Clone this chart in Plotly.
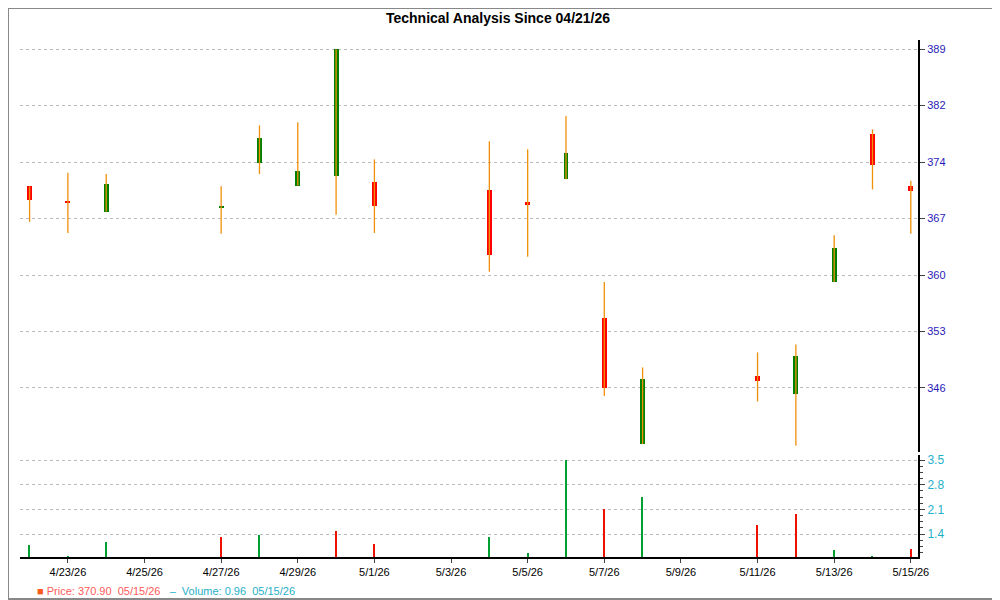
import plotly.graph_objects as go

dates = ["2026-04-22","2026-04-23","2026-04-24","2026-04-27","2026-04-28","2026-04-29","2026-04-30","2026-05-01",
         "2026-05-04","2026-05-05","2026-05-06","2026-05-07","2026-05-08","2026-05-11","2026-05-12","2026-05-13",
         "2026-05-14","2026-05-15"]
opens  = [371.5,369.5,368.3,368.75,374.4,371.6,372.8,372.0,371.0,369.55,372.4,354.9,338.9,347.5,345.2,359.4,378.1,371.6]
highs  = [371.5,373.2,373.05,371.5,379.2,379.6,388.8,374.9,377.2,376.2,380.4,359.4,348.6,350.5,351.5,365.3,378.7,372.2]
lows   = [367.0,365.6,368.3,365.5,373.05,371.6,367.9,365.6,360.7,362.6,372.4,345.0,338.9,344.3,338.7,359.4,371.1,365.5]
closes = [369.8,369.4,371.75,368.95,377.6,373.4,388.8,369.0,362.8,369.1,375.7,346.0,347.1,346.9,350.0,363.7,374.2,370.9]
volumes = [1.09,0.78,1.18,1.32,1.37,0.0,1.49,1.12,1.32,0.86,3.5,2.11,2.45,1.66,1.97,0.95,0.78,0.96]
vol_up = [True,True,True,False,True,True,False,False,True,True,True,False,True,False,False,True,True,False]

price_ticks = [346.0,353.14,360.28,367.42,374.57,381.71,388.85]
price_labels = ["346","353","360","367","374","382","389"]
vol_ticks = [1.4,2.1,2.8,3.5]
vol_labels = ["1.4","2.1","2.8","3.5"]
x_ticks = ["2026-04-23","2026-04-25","2026-04-27","2026-04-29","2026-05-01","2026-05-03","2026-05-05",
           "2026-05-07","2026-05-09","2026-05-11","2026-05-13","2026-05-15"]
x_labels = ["4/23/26","4/25/26","4/27/26","4/29/26","5/1/26","5/3/26","5/5/26","5/7/26","5/9/26","5/11/26","5/13/26","5/15/26"]

GREEN = "#008000"; RED = "#ff0000"; WICK = "#f0900a"
fig = go.Figure()

wx, wy = [], []
for d, h, l in zip(dates, highs, lows):
    wx += [d, d, None]; wy += [l, h, None]
fig.add_trace(go.Scatter(x=wx, y=wy, mode="lines", line=dict(color=WICK, width=1.3), yaxis="y", hoverinfo="skip", showlegend=False))

base = [min(o, c) for o, c in zip(opens, closes)]
height = [max(abs(c - o), 0.3) for o, c in zip(opens, closes)]
bcol = [GREEN if c > o else RED for o, c in zip(opens, closes)]
fig.add_trace(go.Bar(x=dates, y=height, base=base, marker=dict(color=bcol, line=dict(width=0)),
                     width=11e6, yaxis="y", showlegend=False))

fig.add_trace(go.Bar(x=dates, y=volumes, marker=dict(color=["#00a030" if u else "#ee1100" for u in vol_up], line=dict(width=0)),
                     width=3.0e6, yaxis="y2", showlegend=False))

fig.update_layout(
    width=1000, height=600, paper_bgcolor="white", plot_bgcolor="white",
    margin=dict(l=12, r=90, t=32, b=51), bargap=0, barmode="overlay",
    title=dict(text="<b>Technical Analysis Since 04/21/26</b>", x=0.49, y=0.992, yanchor="top", xanchor="center",
               font=dict(family="Liberation Sans, Arial", size=14, color="black")),
    font=dict(family="Liberation Sans, Arial", size=12),
    xaxis=dict(type="date", range=["2026-04-21 18:00", "2026-05-15 04:30"], tickvals=x_ticks, ticktext=x_labels,
               showgrid=False, showline=True, linecolor="black", linewidth=2, ticks="outside", ticklen=4,
               tickfont=dict(color="black", size=11), anchor="y2"),
    yaxis=dict(domain=[0.203, 1], range=[337.9, 390.0], side="right", tickvals=price_ticks, ticktext=price_labels,
               showgrid=True, gridcolor="#bbbbbb", griddash="dot", showline=True, linecolor="black", linewidth=2,
               ticks="outside", ticklen=5, tickfont=dict(color="#2a1ab8", size=11), zeroline=False, anchor="x"),
    yaxis2=dict(domain=[0, 0.197], range=[0.75, 3.64], side="right", tickvals=vol_ticks, ticktext=vol_labels,
                showgrid=True, gridcolor="#bbbbbb", griddash="dot", showline=True, linecolor="black", linewidth=2,
                ticks="outside", ticklen=5, tickfont=dict(color="#1fb0c8", size=12), zeroline=False,
                minor=dict(ticks="outside", ticklen=3, dtick=0.175, tick0=0.0), anchor="x"),
    shapes=[dict(type="rect", xref="paper", yref="paper", x0=-12/898, x1=979/898, y0=-42/517, y1=549/517,
                 line=dict(color="#888888", width=2))],
    annotations=[
        dict(xref="paper", yref="paper", x=0.017, y=-0.065, xanchor="left", yanchor="middle", showarrow=False,
             text="<span style='color:#ff5a1e'>■</span> <span style='color:#ff5a5a'>Price: 370.90  05/15/26</span>   <span style='color:#1fb0c8'>–  Volume: 0.96  05/15/26</span>",
             font=dict(size=11)),
    ],
)
fig.write_html("out.html")
